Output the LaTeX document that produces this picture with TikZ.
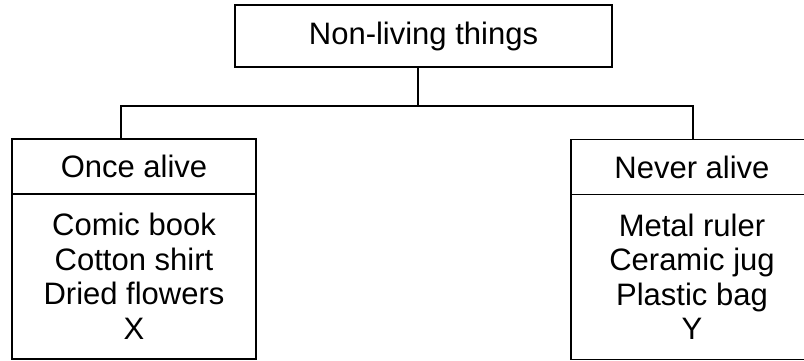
\documentclass[tikz,border=0pt]{standalone}
\usepackage{fontspec}
\setmainfont{Liberation Sans}
\begin{document}
\begin{tikzpicture}[x=1pt,y=-1pt,
  boxline/.style={draw=black,line width=1.8pt},
  topbox/.style={boxline,minimum width=377pt,minimum height=62pt,inner sep=0pt,font=\fontsize{31}{34}\selectfont},
  headbox/.style={boxline,minimum width=244pt,minimum height=55pt,inner sep=0pt,font=\fontsize{31}{34}\selectfont},
  bodybox/.style={boxline,minimum width=244pt,minimum height=165pt,inner sep=0pt,align=center,font=\fontsize{31}{34.5}\selectfont},
  conn/.style={draw=black,line width=1.6pt}]
\useasboundingbox (0,0) rectangle (804,360);
\clip (0,0) rectangle (804,360);
\node[topbox] (top) at (423.5,36) {Non-living things};
\node[headbox] (lhead) at (134,166.5) {Once alive};
\node[bodybox] (lbody) at (134,276.5) {Comic book\\Cotton shirt\\Dried flowers\\X};
\node[headbox,minimum width=242pt] (rhead) at (692,167) {Never alive};
\node[bodybox,minimum width=242pt] (rbody) at (692,277) {Metal ruler\\Ceramic jug\\Plastic bag\\Y};
\coordinate (jc) at (418,106);
\coordinate (jl) at (121,106);
\coordinate (jr) at (693,106);
\draw[conn] (top.south -| jc) -- (jc);
\draw[conn] (lhead.north -| jl) -- (jl) -- (jr) -- (rhead.north -| jr);
\end{tikzpicture}
\end{document}
